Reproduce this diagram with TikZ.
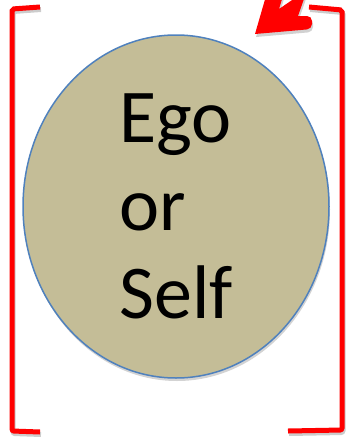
\documentclass[tikz,border=0pt]{standalone}
\usepackage{fontspec}
\setmainfont{Carlito}
\usepackage{tikz}
\usetikzlibrary{shapes,shadows,positioning}

\definecolor{tan}{HTML}{C4BD97}
\definecolor{edgeblue}{HTML}{4F81BD}

\begin{document}
\begin{tikzpicture}[x=1pt, y=-1pt,
        self/.style={ellipse, draw=edgeblue, line width=1.5pt, fill=tan, minimum width=306pt, minimum height=343pt, inner sep=0pt, align=left, font=\fontsize{76}{88}\selectfont,
            drop shadow={opacity=0.35, shadow xshift=1pt, shadow yshift=-3pt}},
        bracket/.style={draw=red, line width=5pt, rounded corners=2pt,
            preaction={draw=black, opacity=0.2, line width=5pt, transform canvas={xshift=1pt, yshift=-2.5pt}}},
        pointer/.style={fill=red,
            preaction={fill=black, opacity=0.18, transform canvas={xshift=1pt, yshift=-3pt}}}]
        \useasboundingbox (0,0) rectangle (350,439);

        \node[self] (ego) at (176,206.5) {Ego\\or\\Self};

        % brackets on both sides
        \path[bracket] (40,7) -- (12,9) -- (12,431) -- (40,432);
        \path[bracket] (309,7) -- (342,10) -- (342,430) -- (288,431);

        % arrow pointing at the self
        \coordinate (tip) at (255,34);
        \begin{scope}
            \clip (0,0) rectangle (350,439);
            \path[pointer] (tip) -- (266,-4) -- (283,-4) -- (279,9) -- (298,-4) -- (305,-4) -- (298,16)
                [rounded corners=5pt] -- (312,16) -- (312,29) [sharp corners] -- cycle;
        \end{scope}
    \end{tikzpicture}
\end{document}
